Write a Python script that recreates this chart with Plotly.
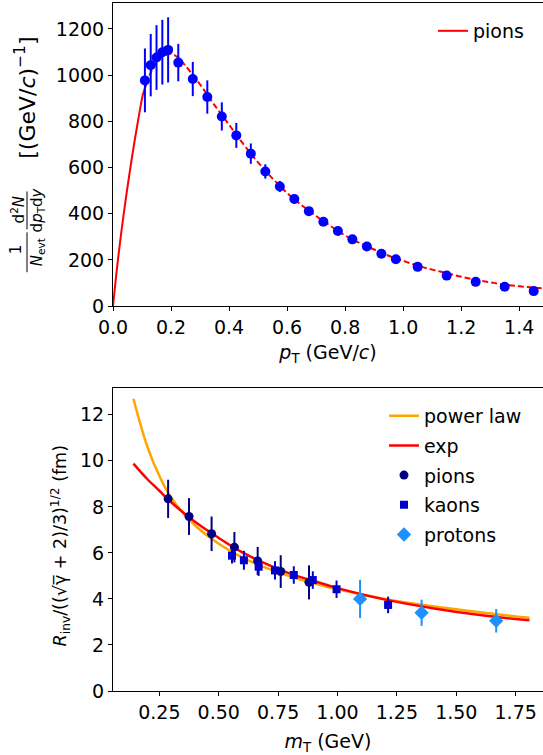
import plotly.graph_objects as go

# ---------------- data: top panel (pion pT spectrum) ----------------
pt_vals = [0.11, 0.13, 0.15, 0.17, 0.19, 0.225, 0.275, 0.325, 0.375, 0.425, 0.475, 0.525,
           0.575, 0.625, 0.675, 0.725, 0.775, 0.825, 0.875, 0.925, 0.975, 1.05, 1.15, 1.25,
           1.35, 1.45]
pt_yield = [977, 1043, 1076, 1099, 1109, 1054, 983, 905, 821, 739, 660, 583,
            518, 464, 411, 365, 325, 289, 258, 227, 203, 170, 132, 105, 84, 65]
pt_err = [138, 135, 140, 140, 141, 81, 74, 72, 61, 54, 44, 31,
          24, 21, 17, 14, 12, 10, 9, 8, 7, 6, 5, 4, 4, 3]

fit_pt_solid = [0.0, 0.017, 0.037, 0.06, 0.086, 0.104, 0.115]
fit_val_solid = [0, 200, 400, 600, 800, 920, 960]
fit_pt_dash = [0.115, 0.13, 0.15, 0.17, 0.2, 0.225, 0.25, 0.275, 0.3, 0.325, 0.35, 0.4, 0.45,
               0.5, 0.55, 0.6, 0.65, 0.7, 0.75, 0.8, 0.85, 0.9, 0.95, 1.0, 1.05, 1.1, 1.15,
               1.2, 1.25, 1.3, 1.35, 1.4, 1.45, 1.482]
fit_val_dash = [960, 1010, 1055, 1080, 1092, 1075, 1040, 1000, 960, 915, 870, 785, 700,
                622, 552, 490, 437, 390, 347, 306, 273, 245, 218, 196, 175, 158, 143,
                127, 114, 103, 93, 86, 80, 77]

# ---------------- data: bottom panel (radii vs mT) ----------------
pions_mt = [0.287, 0.375, 0.470, 0.566, 0.664, 0.761, 0.880]
pions_r = [8.35, 7.58, 6.83, 6.25, 5.65, 5.19, 4.72]
pions_err = [0.83, 0.80, 0.75, 0.66, 0.61, 0.71, 0.74]

kaons_mt = [0.556, 0.606, 0.668, 0.737, 0.816, 0.896, 0.996, 1.213]
kaons_r = [5.88, 5.68, 5.40, 5.24, 5.04, 4.82, 4.42, 3.74]
kaons_err = [0.34, 0.41, 0.40, 0.40, 0.38, 0.38, 0.38, 0.36]

protons_mt = [1.095, 1.354, 1.668]
protons_r = [4.00, 3.40, 3.05]
protons_err = [0.83, 0.57, 0.51]

curve_mt = [0.141, 0.2, 0.25, 0.3, 0.4, 0.5, 0.6, 0.7, 0.8, 0.9, 1.0, 1.2, 1.4, 1.6, 1.808]
power_law_r = [12.7, 10.6, 9.35, 8.4, 7.2, 6.4, 5.8, 5.35, 4.98, 4.68, 4.42, 4.0, 3.68, 3.42, 3.18]
exp_r = [9.88, 9.2, 8.7, 8.2, 7.35, 6.65, 6.02, 5.52, 5.1, 4.78, 4.47, 3.97, 3.6, 3.3, 3.07]

top_xticks = [0.0, 0.2, 0.4, 0.6, 0.8, 1.0, 1.2, 1.4]
top_yticks = [0, 200, 400, 600, 800, 1000, 1200]
bot_xticks = [0.25, 0.50, 0.75, 1.00, 1.25, 1.50, 1.75]
bot_yticks = [0, 2, 4, 6, 8, 10, 12]

# ---------------- geometry helpers ----------------
W, H = 543, 755
ML, MR, MT, MB = 113, 0, 3, 62
PW = W - ML - MR
PH = H - MT - MB
FONT = "DejaVu Sans"
FS = 19


def px(x):
    return (x - ML) / PW


def py(y):
    return (H - MB - y) / PH


fig = go.Figure()

# top panel
fig.add_trace(go.Scatter(x=fit_pt_solid, y=fit_val_solid, mode="lines", line=dict(color="red", width=2, shape="spline"),
                         name="pions", xaxis="x", yaxis="y", legend="legend"))
fig.add_trace(go.Scatter(x=fit_pt_dash, y=fit_val_dash, mode="lines",
                         line=dict(color="red", width=2, dash="6px,3px", shape="spline"),
                         showlegend=False, xaxis="x", yaxis="y"))
fig.add_trace(go.Scatter(x=pt_vals, y=pt_yield, mode="markers",
                         marker=dict(color="blue", size=10),
                         error_y=dict(type="data", array=pt_err, color="blue", thickness=2, width=0),
                         showlegend=False, xaxis="x", yaxis="y"))

# bottom panel
fig.add_trace(go.Scatter(x=curve_mt, y=power_law_r, mode="lines", name="power law", legendgroup="g1",
                         line=dict(color="orange", width=2.5, shape="spline"),
                         xaxis="x2", yaxis="y2", legend="legend2"))
fig.add_trace(go.Scatter(x=curve_mt, y=exp_r, mode="lines", name="exp", legendgroup="g2",
                         line=dict(color="red", width=2.5, shape="spline"),
                         xaxis="x2", yaxis="y2", legend="legend2"))
fig.add_trace(go.Scatter(x=pions_mt, y=pions_r, mode="markers", name="pions", legendgroup="g3",
                         marker=dict(color="navy", size=9, symbol="circle"),
                         error_y=dict(type="data", array=pions_err, color="navy", thickness=2, width=0),
                         xaxis="x2", yaxis="y2", legend="legend2"))
fig.add_trace(go.Scatter(x=kaons_mt, y=kaons_r, mode="markers", name="kaons", legendgroup="g4",
                         marker=dict(color="mediumblue", size=8, symbol="square"),
                         error_y=dict(type="data", array=kaons_err, color="mediumblue", thickness=2, width=0),
                         xaxis="x2", yaxis="y2", legend="legend2"))
fig.add_trace(go.Scatter(x=protons_mt, y=protons_r, mode="markers", name="protons", legendgroup="g5",
                         marker=dict(color="dodgerblue", size=11, symbol="diamond"),
                         error_y=dict(type="data", array=protons_err, color="dodgerblue", thickness=2, width=0),
                         xaxis="x2", yaxis="y2", legend="legend2"))

axis_common = dict(showgrid=False, zeroline=False, showline=True, linecolor="black", linewidth=1,
                   ticks="outside", ticklen=4, tickwidth=1, tickcolor="black",
                   tickfont=dict(family=FONT, size=FS, color="black"))

fig.update_layout(
    width=W, height=H,
    margin=dict(l=ML, r=MR, t=MT, b=MB),
    paper_bgcolor="white", plot_bgcolor="white",
    font=dict(family=FONT, size=FS, color="black"),
    xaxis=dict(axis_common, domain=[0, 1], anchor="y", range=[0, 1.482], mirror=True,
               tickvals=top_xticks, ticktext=[f"{v:.1f}" for v in top_xticks],
               title=dict(text="<i>p</i><sub>T</sub> (GeV/<i>c</i>)", font=dict(family=FONT, size=FS), standoff=8)),
    yaxis=dict(axis_common, domain=[py(307), 1], anchor="x", range=[0, 1312],
               tickvals=top_yticks, ticktext=[str(v) for v in top_yticks]),
    xaxis2=dict(axis_common, domain=[0, 1], anchor="y2", range=[0.055, 1.865], mirror=True,
                tickvals=bot_xticks, ticktext=[f"{v:.2f}" for v in bot_xticks],
                title=dict(text="<i>m</i><sub>T</sub> (GeV)", font=dict(family=FONT, size=FS), standoff=19)),
    yaxis2=dict(axis_common, domain=[0, py(389)], anchor="x2", range=[0, 13.17],
                tickvals=bot_yticks, ticktext=[str(v) for v in bot_yticks]),
    legend=dict(x=px(433), y=py(12), xanchor="left", yanchor="top", bgcolor="rgba(0,0,0,0)",
                font=dict(family=FONT, size=FS)),
    legend2=dict(x=px(384), y=py(398), xanchor="left", yanchor="top", bgcolor="rgba(0,0,0,0)",
                 font=dict(family=FONT, size=FS), tracegroupgap=2),
)

# y-axis title of the top panel built from pieces (rotated)
small = 15
ann = [
    dict(text="[(GeV/<i>c</i>)<sup>−1</sup>]", x=px(25), y=py(98), size=22),
    dict(text="1", x=px(16), y=py(250), size=small),
    dict(text="<i>N</i><sub>evt</sub>", x=px(37), y=py(253), size=small),
    dict(text="d<sup>2</sup><i>N</i>", x=px(18), y=py(211), size=small),
    dict(text="d<i>p</i><sub>T</sub>d<i>y</i>", x=px(37), y=py(211), size=small),
    dict(text="<i>R</i><sub>inv</sub>/((√γ\u0305 + 2)/3)<sup>1/2</sup> (fm)", x=px(60), y=py(548), size=17.5),
]
for a in ann:
    fig.add_annotation(text=a["text"], x=a["x"], y=a["y"], xref="paper", yref="paper",
                       xanchor="center", yanchor="middle", textangle=-90, showarrow=False,
                       font=dict(family=FONT, size=a["size"], color="black"))

for (x0, y0, y1) in [(27, 233, 273), (27, 192, 230)]:
    fig.add_shape(type="line", xref="paper", yref="paper", x0=px(x0), x1=px(x0), y0=py(y0), y1=py(y1),
                  line=dict(color="black", width=1))

fig.write_html("out.html", post_script="document.body.style.margin='0';",
               config={"displayModeBar": False})
